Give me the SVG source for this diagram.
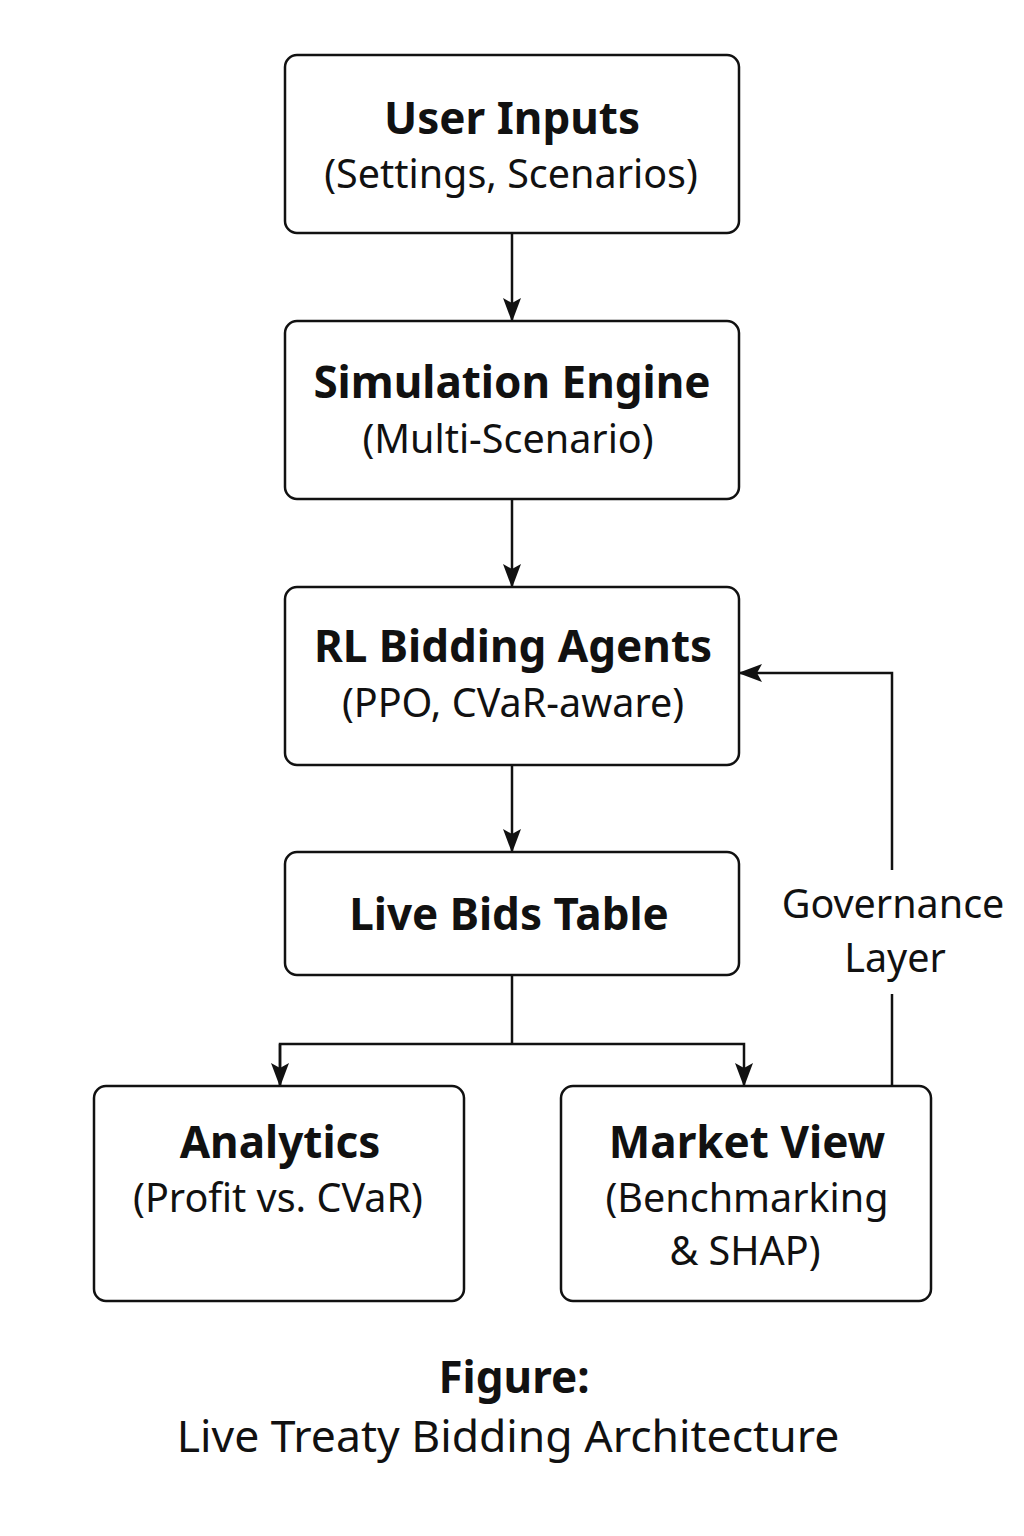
<svg xmlns="http://www.w3.org/2000/svg" width="1024" height="1536" viewBox="0 0 1024 1536">
<style>
.box{fill:#fff;stroke:#111;stroke-width:2.5}
.t{font-family:"Noto Sans","Open Sans",sans-serif;font-weight:bold;font-size:44px;fill:#111;text-anchor:middle}
.s{font-family:"Noto Sans","Open Sans",sans-serif;font-size:39.5px;fill:#111;text-anchor:middle}
.c{fill:none;stroke:#111;stroke-width:2.5}
</style>
<defs>
<marker id="ah" viewBox="0 0 24 20" refX="22" refY="10" markerWidth="24" markerHeight="20" markerUnits="userSpaceOnUse" orient="auto">
<path d="M0,1 L24,10 L0,19 L5,10 Z" fill="#111"/>
</marker>
</defs>
<rect width="1024" height="1536" fill="#fff"/>
<g id="connectors">
<line class="c" x1="512" y1="233" x2="512" y2="320" marker-end="url(#ah)"/>
<line class="c" x1="512" y1="499" x2="512" y2="586" marker-end="url(#ah)"/>
<line class="c" x1="512" y1="765" x2="512" y2="851" marker-end="url(#ah)"/>
<polyline class="c" points="512,975 512,1044"/>
<polyline class="c" points="280,1085 280,1044 744,1044 744,1085" marker-end="url(#ah)"/>
<line class="c" x1="280" y1="1044" x2="280" y2="1085" marker-end="url(#ah)"/>
<polyline class="c" points="892,1086 892,994"/>
<polyline class="c" points="892,870 892,673 740,673" marker-end="url(#ah)"/>
</g>
<g id="user-inputs">
<rect class="box" x="285" y="55" width="454" height="178" rx="12"/>
<text class="t" x="512" y="134">User Inputs</text>
<text class="s" x="511" y="188">(Settings, Scenarios)</text>
</g>
<g id="simulation-engine">
<rect class="box" x="285" y="321" width="454" height="178" rx="12"/>
<text class="t" x="512" y="398">Simulation Engine</text>
<text class="s" x="508" y="453">(Multi-Scenario)</text>
</g>
<g id="rl-bidding-agents">
<rect class="box" x="285" y="587" width="454" height="178" rx="12"/>
<text class="t" x="513" y="662">RL Bidding Agents</text>
<text class="s" x="513" y="717">(PPO, CVaR-aware)</text>
</g>
<g id="live-bids-table">
<rect class="box" x="285" y="852" width="454" height="123" rx="12"/>
<text class="t" x="509" y="930">Live Bids Table</text>
</g>
<g id="analytics">
<rect class="box" x="94" y="1086" width="370" height="215" rx="12"/>
<text class="t" x="280" y="1158">Analytics</text>
<text class="s" x="278" y="1212">(Profit vs. CVaR)</text>
</g>
<g id="market-view">
<rect class="box" x="561" y="1086" width="370" height="215" rx="12"/>
<text class="t" x="747" y="1158">Market View</text>
<text class="s" x="747" y="1212">(Benchmarking</text>
<text class="s" x="745" y="1265">&amp; SHAP)</text>
</g>
<g id="governance-label">
<text class="s" x="893" y="918">Governance</text>
<text class="s" x="895" y="972">Layer</text>
</g>
<g id="caption">
<text class="t" x="514" y="1393">Figure:</text>
<text class="s" x="508" y="1452" style="font-size:44.5px">Live Treaty Bidding Architecture</text>
</g>
</svg>
